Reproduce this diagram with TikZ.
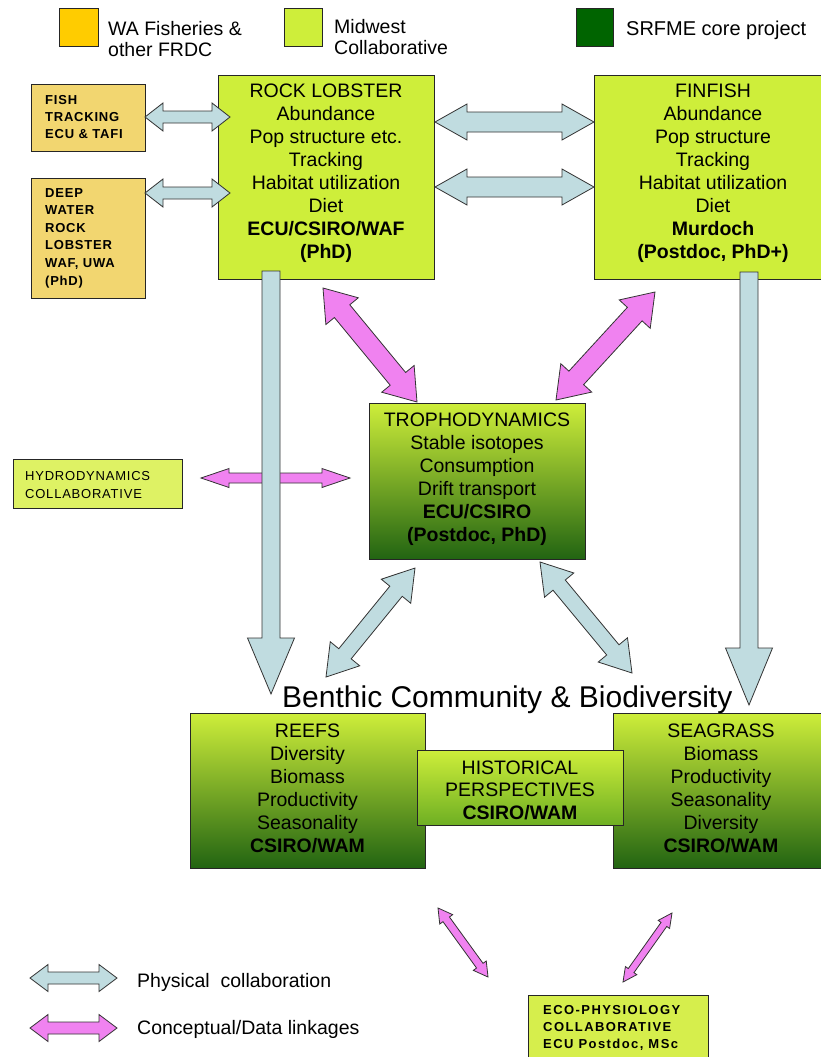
\documentclass[tikz,border=0pt]{standalone}
\usepackage{fontspec}
\setmainfont{Liberation Sans}
\newfontfamily\spacedfont[LetterSpace=6]{Liberation Sans}
\newfontfamily\widefont[LetterSpace=11]{Liberation Sans}
\usetikzlibrary{calc}
\definecolor{mwgreen}{RGB}{206,238,58}
\definecolor{midgreen}{RGB}{150,205,45}
\definecolor{histbot}{RGB}{110,175,35}
\definecolor{gradbottom}{RGB}{34,100,18}
\definecolor{dkgreen}{RGB}{0,100,0}
\definecolor{wayellow}{RGB}{255,204,0}
\definecolor{tanbox}{RGB}{242,214,112}
\definecolor{hydrofill}{RGB}{222,242,100}
\definecolor{ecofill}{RGB}{214,238,76}
\definecolor{physblue}{RGB}{192,220,224}
\definecolor{pinkarr}{RGB}{240,130,240}
\newcommand\fatdbl[6]{%
\path[#1] let \p1=(#2), \p2=(#3), \n1={atan2(\y2-\y1,\x2-\x1)} in
 (\p1) -- ($(\p1)+(\n1:#6)+({\n1+90}:#5)$) -- ($(\p1)+(\n1:#6)+({\n1+90}:#4)$)
 -- ($(\p2)+({\n1+180}:#6)+({\n1+90}:#4)$) -- ($(\p2)+({\n1+180}:#6)+({\n1+90}:#5)$)
 -- (\p2) -- ($(\p2)+({\n1+180}:#6)+({\n1-90}:#5)$) -- ($(\p2)+({\n1+180}:#6)+({\n1-90}:#4)$)
 -- ($(\p1)+(\n1:#6)+({\n1-90}:#4)$) -- ($(\p1)+(\n1:#6)+({\n1-90}:#5)$) -- cycle;}
\newcommand\fatsgl[6]{%
\path[#1] let \p1=(#2), \p2=(#3), \n1={atan2(\y2-\y1,\x2-\x1)} in
 ($(\p1)+({\n1+90}:#4)$) -- ($(\p2)+({\n1+180}:#6)+({\n1+90}:#4)$) -- ($(\p2)+({\n1+180}:#6)+({\n1+90}:#5)$)
 -- (\p2) -- ($(\p2)+({\n1+180}:#6)+({\n1-90}:#5)$) -- ($(\p2)+({\n1+180}:#6)+({\n1-90}:#4)$)
 -- ($(\p1)+({\n1-90}:#4)$) -- cycle;}
\tikzset{
  boxfr/.style={draw=black!85, line width=1pt, inner sep=0pt},
  limebox/.style={boxfr, fill=mwgreen},
  btext/.style={align=center, inner sep=0pt, font=\fontsize{19.5}{23}\selectfont},
  stext/.style={align=left, anchor=west, inner sep=0pt, font=\spacedfont\fontsize{13}{17}\selectfont},
  legtext/.style={align=left, anchor=west, inner sep=0pt, font=\fontsize{19.5}{21}\selectfont},
  blueArr/.style={fill=physblue, draw=black!80, line width=0.8pt},
  pinkArr/.style={fill=pinkarr, draw=black!80, line width=0.8pt}
}
\begin{document}
\begin{tikzpicture}[x=1pt,y=-1pt]
\useasboundingbox (0,0) rectangle (821,1057);
\clip (0,0) rectangle (821,1057);
\fill[white] (0,0) rectangle (821,1057);

% legend top
\node[boxfr, fill=wayellow, minimum width=39pt, minimum height=38pt] (lgy) at (78.5,28) {};
\node[legtext] (lgyt) at (108,39) {WA Fisheries \&\\other FRDC};
\node[boxfr, fill=mwgreen, minimum width=38pt, minimum height=38pt] (lgm) at (303,28) {};
\node[legtext] (lgmt) at (334,37) {Midwest\\Collaborative};
\node[boxfr, fill=dkgreen, minimum width=37pt, minimum height=38pt] (lgd) at (594.5,28) {};
\node[legtext, font=\fontsize{20}{22}\selectfont] (lgdt) at (626,30) {SRFME core project};

% small side boxes
\node[boxfr, fill=tanbox, minimum width=114pt, minimum height=67pt] (fish) at (88,117.5) {};
\node[stext, font=\spacedfont\bfseries\fontsize{13}{17}\selectfont] (fisht) at (45,117) {FISH\\TRACKING\\ECU \& TAFI};
\node[boxfr, fill=tanbox, minimum width=114pt, minimum height=120pt] (deep) at (88,238) {};
\node[stext, font=\spacedfont\bfseries\fontsize{13}{17.6}\selectfont] (deept) at (45,238) {DEEP\\WATER\\ROCK\\LOBSTER\\WAF, UWA\\(PhD)};
\node[boxfr, fill=hydrofill, minimum width=169pt, minimum height=49pt] (hydro) at (97.5,483.5) {};
\node[stext, font=\spacedfont\fontsize{13}{18}\selectfont] (hydrot) at (25,485) {HYDRODYNAMICS\\COLLABORATIVE};
\node[boxfr, fill=ecofill, minimum width=180pt, minimum height=75pt] (eco) at (618,1032.5) {};
\node[stext, font=\widefont\bfseries\fontsize{13}{17}\selectfont] (ecot) at (543,1028) {ECO-PHYSIOLOGY\\COLLABORATIVE\\ECU Postdoc, MSc};

% main boxes
\node[limebox, minimum width=216pt, minimum height=204pt] (rock) at (326,177) {};
\node[btext] (rockt) at (326,173) {ROCK LOBSTER\\Abundance\\Pop structure etc.\\Tracking\\Habitat utilization\\Diet\\\textbf{ECU/CSIRO/WAF}\\\textbf{(PhD)}};
\node[limebox, minimum width=238pt, minimum height=204pt] (fin) at (713,177) {};
\node[btext] (fint) at (713,173) {FINFISH\\Abundance\\Pop structure\\Tracking\\Habitat utilization\\Diet\\\textbf{Murdoch}\\\textbf{(Postdoc, PhD+)}};
\node[boxfr, top color=mwgreen, middle color={rgb,255:red,120;green,180;blue,35}, bottom color=gradbottom, minimum width=216pt, minimum height=156pt] (troph) at (477,481) {};
\node[btext] (tropht) at (477,479) {TROPHODYNAMICS\\Stable isotopes\\Consumption\\Drift transport\\\textbf{ECU/CSIRO}\\\textbf{(Postdoc, PhD)}};
\node[boxfr, top color=mwgreen, middle color=midgreen, bottom color=gradbottom, minimum width=235pt, minimum height=155pt] (reefs) at (307.5,790.5) {};
\node[btext] (reefst) at (307.5,788.5) {REEFS\\Diversity\\Biomass\\Productivity\\Seasonality\\\textbf{CSIRO/WAM}};
\node[boxfr, top color=mwgreen, middle color=midgreen, bottom color=gradbottom, minimum width=216pt, minimum height=155pt] (sea) at (721,790.5) {};
\node[btext] (seat) at (721,788.5) {SEAGRASS\\Biomass\\Productivity\\Seasonality\\Diversity\\\textbf{CSIRO/WAM}};
\node[boxfr, top color=mwgreen, bottom color=histbot, minimum width=206pt, minimum height=75pt] (hist) at (520,787.5) {};
\node[btext, font=\fontsize{19.5}{22.5}\selectfont] (histt) at (520,790) {HISTORICAL\\PERSPECTIVES\\\textbf{CSIRO/WAM}};

\node[anchor=base west, inner sep=0pt, font=\fontsize{30}{34}\selectfont] (benthic) at (282,707) {Benthic Community \& Biodiversity};

% arrow end points
\coordinate (a1s) at (145,117); \coordinate (a1e) at (230,117);
\coordinate (a2s) at (145,193); \coordinate (a2e) at (230,193);
\coordinate (a3s) at (435,122); \coordinate (a3e) at (594,122);
\coordinate (a4s) at (435,187); \coordinate (a4e) at (594,187);
\coordinate (v1s) at (271,271); \coordinate (v1e) at (271,694);
\coordinate (v2s) at (749,272); \coordinate (v2e) at (749,705);
\coordinate (p1s) at (323,288); \coordinate (p1e) at (417,402);
\coordinate (p2s) at (655,292); \coordinate (p2e) at (556,400);
\coordinate (p3s) at (201,478); \coordinate (p3e) at (350,478);
\coordinate (b1s) at (415,568); \coordinate (b1e) at (326,677);
\coordinate (b2s) at (540,562); \coordinate (b2e) at (632,673);
\coordinate (p4s) at (438,908); \coordinate (p4e) at (488,977);
\coordinate (p5s) at (672,913); \coordinate (p5e) at (623,982);
\coordinate (l1s) at (30,978); \coordinate (l1e) at (117,978);
\coordinate (l2s) at (30,1028); \coordinate (l2e) at (117,1028);

% arrows
\fatdbl{blueArr}{a1s}{a1e}{6pt}{14pt}{18pt}
\fatdbl{blueArr}{a2s}{a2e}{6pt}{14pt}{18pt}
\fatdbl{blueArr}{a3s}{a3e}{10pt}{18pt}{32pt}
\fatdbl{blueArr}{a4s}{a4e}{10pt}{18pt}{32pt}
\fatdbl{pinkArr}{p3s}{p3e}{5pt}{9.5pt}{28pt}
\fatsgl{blueArr}{v1s}{v1e}{9pt}{23.5pt}{56pt}
\fatsgl{blueArr}{v2s}{v2e}{9pt}{23.5pt}{57pt}
\fatdbl{pinkArr}{p1s}{p1e}{10pt}{21pt}{30pt}
\fatdbl{pinkArr}{p2s}{p2e}{10pt}{21pt}{30pt}
\fatdbl{blueArr}{b1s}{b1e}{8pt}{19pt}{30pt}
\fatdbl{blueArr}{b2s}{b2e}{8pt}{19pt}{30pt}
\fatdbl{pinkArr}{p4s}{p4e}{4pt}{8pt}{14pt}
\fatdbl{pinkArr}{p5s}{p5e}{3.5pt}{7pt}{14pt}

% legend bottom
\fatdbl{blueArr}{l1s}{l1e}{6pt}{13.5pt}{18pt}
\fatdbl{pinkArr}{l2s}{l2e}{6pt}{13.5pt}{18pt}
\node[legtext] (l1t) at (137,982) {Physical\ \ collaboration};
\node[legtext] (l2t) at (137,1029) {Conceptual/Data linkages};
\end{tikzpicture}
\end{document}
